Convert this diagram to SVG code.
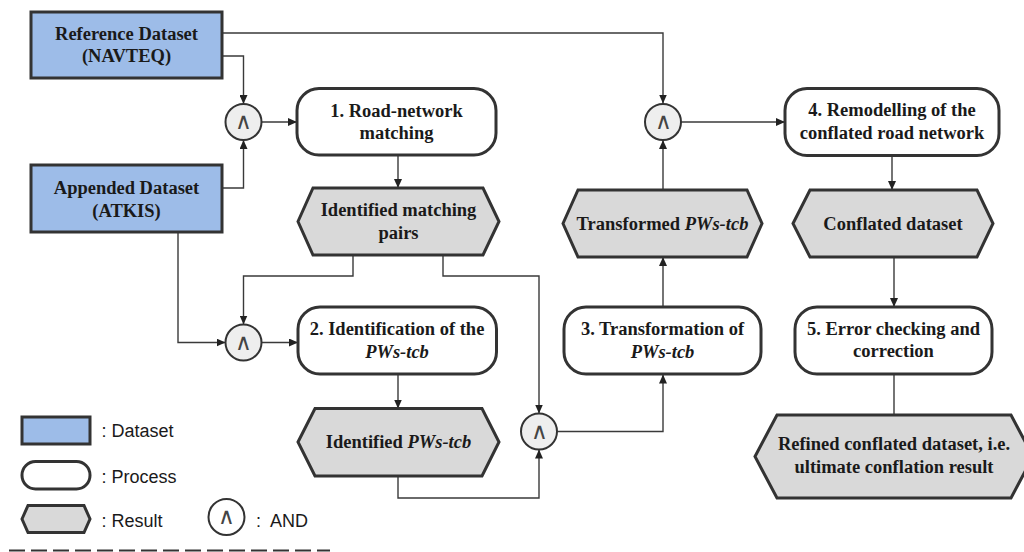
<svg xmlns="http://www.w3.org/2000/svg" width="1024" height="552" viewBox="0 0 1024 552">
<style>
.ds{fill:#9dbce8;stroke:#333;stroke-width:3}
.pr{fill:#fff;stroke:#333;stroke-width:3}
.rs{fill:#d9d9d9;stroke:#333;stroke-width:3}
.and{fill:#eeeeee;stroke:#333;stroke-width:2}
.sym{font-family:"DejaVu Sans",sans-serif;font-size:23px;font-weight:300;fill:#444;text-anchor:middle}
.t{font-family:"Liberation Serif","Times New Roman",serif;font-weight:bold;font-size:18.5px;fill:#1a1a1a;text-anchor:middle}
.t .i{font-style:italic}
.lg{font-family:"Liberation Sans",Arial,sans-serif;font-size:18px;fill:#1a1a1a}
.c{fill:none;stroke:#3a3a3a;stroke-width:1.4}
</style>
<defs>
<marker id="ah" markerUnits="userSpaceOnUse" markerWidth="9" markerHeight="8" viewBox="0 0 9 8" refX="9" refY="4" orient="auto">
<path d="M0,0 L9,4 L0,8 z" fill="#222"/>
</marker>
</defs>

<g id="connectors">
<path class="c" d="M222,33 H663 V103.5" marker-end="url(#ah)"/>
<path class="c" d="M222,56 H243.5 V104" marker-end="url(#ah)"/>
<path class="c" d="M222,188 H243.5 V140" marker-end="url(#ah)"/>
<path class="c" d="M261.5,122 H297" marker-end="url(#ah)"/>
<path class="c" d="M398,155 V188" marker-end="url(#ah)"/>
<path class="c" d="M178,232 V342.5 H225.5" marker-end="url(#ah)"/>
<path class="c" d="M353,255 V276 H243.5 V324.5" marker-end="url(#ah)"/>
<path class="c" d="M443,255 V276 H539 V413.5" marker-end="url(#ah)"/>
<path class="c" d="M261.5,342.5 H298" marker-end="url(#ah)"/>
<path class="c" d="M398,374 V408.5" marker-end="url(#ah)"/>
<path class="c" d="M398,476 V498 H539 V449.5" marker-end="url(#ah)"/>
<path class="c" d="M557,431.5 H663 V374.5" marker-end="url(#ah)"/>
<path class="c" d="M663,307 V257" marker-end="url(#ah)"/>
<path class="c" d="M663,190 V140" marker-end="url(#ah)"/>
<path class="c" d="M681,122 H785" marker-end="url(#ah)"/>
<path class="c" d="M892,155.5 V190" marker-end="url(#ah)"/>
<path class="c" d="M894,257 V307" marker-end="url(#ah)"/>
<path class="c" d="M894,374 V415"/>
</g>

<g id="ref-dataset">
<rect class="ds" x="31" y="12" width="191" height="66"/>
<text class="t" x="126.5" y="39.5">Reference Dataset</text>
<text class="t" x="126.5" y="62">(NAVTEQ)</text>
</g>
<g id="app-dataset">
<rect class="ds" x="31" y="165" width="191" height="67"/>
<text class="t" x="126.5" y="194">Appended Dataset</text>
<text class="t" x="126.5" y="217">(ATKIS)</text>
</g>

<g id="and1"><circle class="and" cx="243.5" cy="122" r="18"/><text class="sym" x="243.5" y="129">∧</text></g>
<g id="and2"><circle class="and" cx="243.5" cy="342.5" r="18"/><text class="sym" x="243.5" y="349.5">∧</text></g>
<g id="and3"><circle class="and" cx="539" cy="431.5" r="18"/><text class="sym" x="539" y="438.5">∧</text></g>
<g id="and4"><circle class="and" cx="663" cy="122" r="18"/><text class="sym" x="663" y="129">∧</text></g>

<g id="proc1">
<rect class="pr" x="297" y="88.5" width="199" height="66.5" rx="22"/>
<text class="t" x="396.5" y="116.5">1. Road-network</text>
<text class="t" x="396.5" y="139">matching</text>
</g>
<g id="res1">
<polygon class="rs" points="298,221.5 313,188 483,188 499,221.5 483,255 313,255"/>
<text class="t" x="398.5" y="216">Identified matching</text>
<text class="t" x="398.5" y="238.5">pairs</text>
</g>
<g id="proc2">
<rect class="pr" x="298" y="307" width="198.5" height="67" rx="22"/>
<text class="t" x="397" y="335">2. Identification of the</text>
<text class="t" x="397" y="357.5"><tspan class="i">PWs-tcb</tspan></text>
</g>
<g id="res2">
<polygon class="rs" points="298,442 315,408.5 482,408.5 499,442 482,476 315,476"/>
<text class="t" x="398.5" y="447.5">Identified <tspan class="i">PWs-tcb</tspan></text>
</g>
<g id="proc3">
<rect class="pr" x="564" y="307" width="197" height="67" rx="22"/>
<text class="t" x="662.5" y="334.5">3. Transformation of</text>
<text class="t" x="662.5" y="357.5"><tspan class="i">PWs-tcb</tspan></text>
</g>
<g id="res3">
<polygon class="rs" points="563,223.5 578,190 747,190 762,223.5 747,257 578,257"/>
<text class="t" x="662.5" y="229.5">Transformed <tspan class="i">PWs-tcb</tspan></text>
</g>
<g id="proc4">
<rect class="pr" x="785" y="88.5" width="214" height="67" rx="22"/>
<text class="t" x="892" y="116">4. Remodelling of the</text>
<text class="t" x="892" y="138.5">conflated road network</text>
</g>
<g id="res4">
<polygon class="rs" points="793,223.5 810,190 977,190 993,223.5 977,257 810,257"/>
<text class="t" x="893" y="229.5">Conflated dataset</text>
</g>
<g id="proc5">
<rect class="pr" x="795" y="307" width="197" height="67" rx="22"/>
<text class="t" x="893.5" y="334.5">5. Error checking and</text>
<text class="t" x="893.5" y="357">correction</text>
</g>
<g id="res5">
<polygon class="rs" points="755,456.5 777,415 1011,415 1033,456.5 1011,498 777,498"/>
<text class="t" x="894" y="450">Refined conflated dataset, i.e.</text>
<text class="t" x="894" y="472.5">ultimate conflation result</text>
</g>

<g id="legend">
<rect class="ds" x="22" y="417" width="68" height="27"/>
<text class="lg" x="101.5" y="436.5">: Dataset</text>
<rect class="pr" x="22" y="461.5" width="68" height="27.5" rx="13.5"/>
<text class="lg" x="101.5" y="482.5">: Process</text>
<polygon class="rs" points="22,519 28,505.5 84,505.5 90,519 84,532.5 28,532.5"/>
<text class="lg" x="101.5" y="526.5">: Result</text>
<circle cx="226.5" cy="517" r="18" fill="#fff" stroke="#333" stroke-width="2"/>
<text class="sym" x="226.5" y="524">∧</text>
<text class="lg" x="256" y="526.5" xml:space="preserve">:  AND</text>
<line x1="9" y1="550.5" x2="330" y2="550.5" stroke="#333" stroke-width="2" stroke-dasharray="16,6"/>
</g>
</svg>
